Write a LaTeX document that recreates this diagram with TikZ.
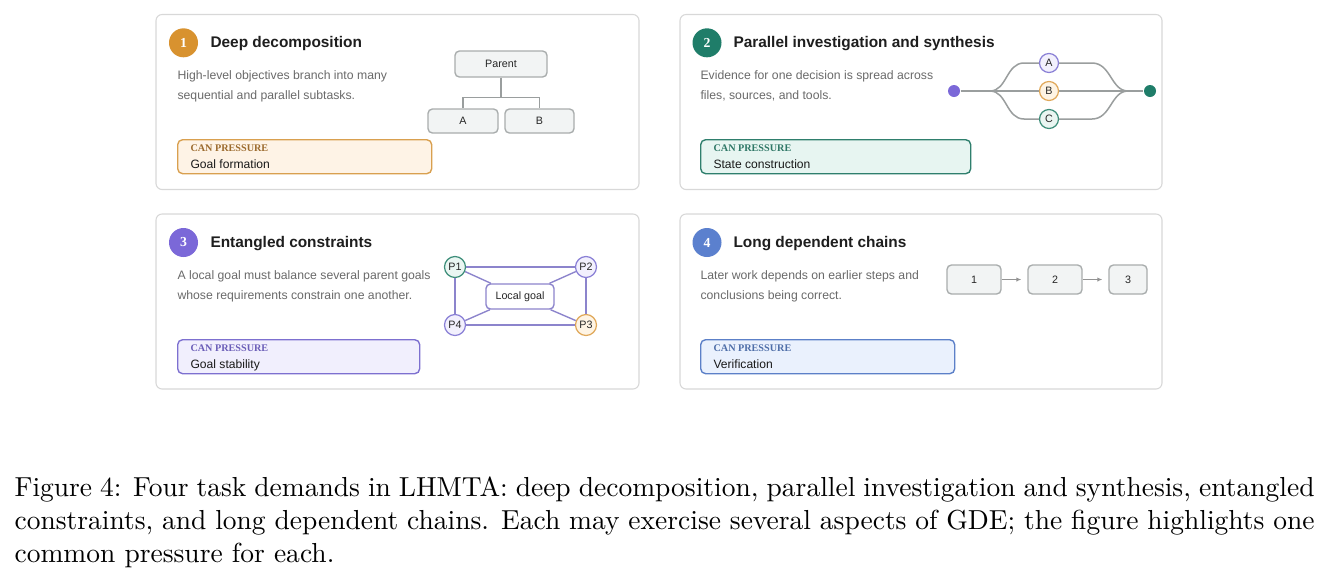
\documentclass[tikz,border=0pt]{standalone}
\usepackage{fontspec}
\newfontfamily\sansfont{Liberation Sans}
\newfontfamily\seriffont{Liberation Serif}
\usetikzlibrary{arrows.meta}

% palette
\definecolor{cardline}{HTML}{D8D8D8}
\definecolor{titlegray}{HTML}{1E1E1E}
\definecolor{descgray}{HTML}{6A6A6A}
\definecolor{boxline}{HTML}{A9ADAD}
\definecolor{boxfill}{HTML}{F2F4F4}
\definecolor{wiregray}{HTML}{9A9E9E}
\definecolor{oneMain}{HTML}{D8922F}
\definecolor{oneLine}{HTML}{D9A04F}
\definecolor{oneFill}{HTML}{FEF3E6}
\definecolor{oneTag}{HTML}{9C6B2E}
\definecolor{twoMain}{HTML}{1F7D69}
\definecolor{twoLine}{HTML}{2F7F6D}
\definecolor{twoFill}{HTML}{E7F5F1}
\definecolor{twoTag}{HTML}{2E7766}
\definecolor{threeMain}{HTML}{7B68D8}
\definecolor{threeLine}{HTML}{7D70D0}
\definecolor{threeFill}{HTML}{F1EFFD}
\definecolor{threeTag}{HTML}{6B5EB8}
\definecolor{fourMain}{HTML}{5B80CE}
\definecolor{fourLine}{HTML}{5C80C8}
\definecolor{fourFill}{HTML}{EAF1FD}
\definecolor{fourTag}{HTML}{4E6EA8}
\definecolor{ringline}{HTML}{8A80D6}
\definecolor{ringfill}{HTML}{F2F0FD}
\definecolor{ambline}{HTML}{E0A85A}
\definecolor{ambfill}{HTML}{FEF4E4}
\definecolor{tealline}{HTML}{3E8E7A}
\definecolor{tealfill}{HTML}{EAF6F2}
\definecolor{knot}{HTML}{8C84CC}

\def\px{0.3636pt}

\tikzset{%
    card/.style={draw=cardline,line width=0.4pt,rounded corners=2.2pt,fill=white},
    badge/.style={circle,minimum size=29*\px,inner sep=0,text=white,font=\seriffont\bfseries\fontsize{5}{6}\selectfont},
    title/.style={inner sep=0,text=titlegray,font=\sansfont\bfseries\fontsize{5.6}{6.7}\selectfont},
    desc/.style={inner sep=0,align=left,text=descgray,font=\sansfont\fontsize{4.45}{7.27}\selectfont},
    pbox/.style={anchor=north west,draw,line width=0.5pt,rounded corners=1.8pt,minimum height=34*\px,inner sep=0},
    tag/.style={inner sep=0,font=\seriffont\bfseries\fontsize{3.7}{4.4}\selectfont},
    aspect/.style={inner sep=0,text=black!90,font=\sansfont\fontsize{4.4}{5.3}\selectfont},
    treebox/.style={draw=boxline,fill=boxfill,line width=0.5pt,rounded corners=1.6pt,inner sep=0,
        text=black!85,font=\sansfont\fontsize{3.9}{4.7}\selectfont},
    chainbox/.style={treebox,minimum height=29*\px},
    wire/.style={draw=wiregray,line width=0.55pt},
    ring/.style={circle,line width=0.45pt,inner sep=0,text=black!85,font=\sansfont\fontsize{3.9}{4.7}\selectfont},
    dot/.style={circle,minimum size=12*\px,inner sep=0},
    knotline/.style={draw=knot,line width=0.5pt},
    flow/.style={draw=gray!85,line width=0.5pt,-{Latex[length=1.8pt,width=1.6pt]},shorten >=6*\px},
    caption/.style={anchor=north west,inner sep=0,text width=1300*\px,align=justify,font=\fontsize{10}{12}\selectfont},
}

\begin{document}
\begin{tikzpicture}[x=0.3636pt,y=-0.3636pt]

%\pressure{name}{x}{y}{width}{colour}{aspect}
\newcommand*{\pressure}[6]{%
	\node [pbox,draw=#5Line,fill=#5Fill,minimum width=#4*\px] (#1) at (#2,#3) {};
	\node [tag,text=#5Tag,anchor=base west] (#1tag) at ([shift={(13,12.5)}]#1.north west) {CAN PRESSURE};
	\node [aspect,anchor=base west] (#1txt) at ([shift={(13,29)}]#1.north west) {#6};
}

\useasboundingbox (0,0) rectangle (1329,578);

% the four cards
\draw [card] (156,14.5) rectangle (639,189.5);
\draw [card] (680,14.5) rectangle (1162,189.5);
\draw [card] (156,214) rectangle (639,389);
\draw [card] (680,214) rectangle (1162,389);

% card 1: deep decomposition
\node [badge,fill=oneMain] (n1) at (183.5,42.8) {1};
\node [title,anchor=base west] (t1) at (210,47.7) {Deep decomposition};
\node [desc,anchor=base west] (d1) at (177,99.3) {High-level objectives branch into many\\sequential and parallel subtasks.};
\pressure{p1}{177}{139}{254}{one}{Goal formation}

\node [treebox,minimum width=92*\px,minimum height=26*\px] (par) at (501,64) {Parent};
\node [treebox,minimum width=70*\px,minimum height=24*\px] (ka) at (463,121) {A};
\node [treebox,minimum width=69*\px,minimum height=24*\px] (kb) at (539.5,121) {B};
\draw [wire] (par.south) -- ++(0,20) -| (ka.north);
\draw [wire] (par.south) -- ++(0,20) -| (kb.north);

% card 2: parallel investigation and synthesis
\node [badge,fill=twoMain] (n2) at (707,42.8) {2};
\node [title,anchor=base west] (t2) at (733,47.7) {Parallel investigation and synthesis};
\node [desc,anchor=base west] (d2) at (700,99.3) {Evidence for one decision is spread across\\files, sources, and tools.};
\pressure{p2}{700}{139}{270}{two}{State construction}

\node [dot,fill=threeMain] (src) at (954,91) {};
\node [dot,fill=twoMain] (snk) at (1150,91) {};
\node [ring,draw=ringline,fill=ringfill,minimum size=19*\px] (ra) at (1049,63) {A};
\node [ring,draw=ambline,fill=ambfill,minimum size=19*\px] (rb) at (1049,91) {B};
\node [ring,draw=tealline,fill=tealfill,minimum size=19*\px] (rc) at (1049,119) {C};
\coordinate (split) at (990,91);
\coordinate (merge) at (1128,91);
\draw [wire] (src) -- (split) -- (rb) -- (merge) -- (snk);
\draw [wire] (split) .. controls (1007,91) and (1006,63) .. (1024,63) -- (ra);
\draw [wire] (split) .. controls (1007,91) and (1006,119) .. (1024,119) -- (rc);
\draw [wire] (ra) -- (1092,63) .. controls (1111,63) and (1111,91) .. (merge);
\draw [wire] (rc) -- (1092,119) .. controls (1111,119) and (1111,91) .. (merge);

% card 3: entangled constraints
\node [badge,fill=threeMain] (n3) at (183.5,242.5) {3};
\node [title,anchor=base west] (t3) at (210,247.5) {Entangled constraints};
\node [desc,anchor=base west] (d3) at (177,299.3) {A local goal must balance several parent goals\\whose requirements constrain one another.};
\pressure{p3}{177}{339}{242}{three}{Goal stability}

\node [ring,draw=tealline,fill=tealfill,minimum size=21*\px] (q1) at (455,267) {P1};
\node [ring,draw=ringline,fill=ringfill,minimum size=21*\px] (q2) at (586,267) {P2};
\node [ring,draw=ambline,fill=ambfill,minimum size=21*\px] (q3) at (586,325) {P3};
\node [ring,draw=ringline,fill=ringfill,minimum size=21*\px] (q4) at (455,325) {P4};
\node [treebox,draw=knot,fill=white,minimum width=68*\px,minimum height=25*\px] (lg) at (520,296.5) {Local goal};
\draw [knotline] (q1) -- (q2) -- (q3) -- (q4) -- (q1);
\foreach \q in {q1,q2,q3,q4}
	\draw [knotline] (\q) -- (lg);

% card 4: long dependent chains
\node [badge,fill=fourMain] (n4) at (707,242.5) {4};
\node [title,anchor=base west] (t4) at (733,247.5) {Long dependent chains};
\node [desc,anchor=base west] (d4) at (700,299.3) {Later work depends on earlier steps and\\conclusions being correct.};
\pressure{p4}{700}{339}{254}{four}{Verification}

\node [chainbox,minimum width=54*\px] (s1) at (974,279.5) {1};
\node [chainbox,minimum width=54*\px] (s2) at (1055,279.5) {2};
\node [chainbox,minimum width=38*\px] (s3) at (1128,279.5) {3};
\draw [flow] (s1) -- (s2);
\draw [flow] (s2) -- (s3);

% caption
\node [caption] (cap) at (14,476) {\noindent Figure 4: Four task demands in LHMTA: deep decomposition, parallel investigation and synthesis, entangled\linebreak constraints, and long dependent chains. Each may exercise several aspects of GDE; the figure highlights one\linebreak common pressure for each.};

\end{tikzpicture}
\end{document}
